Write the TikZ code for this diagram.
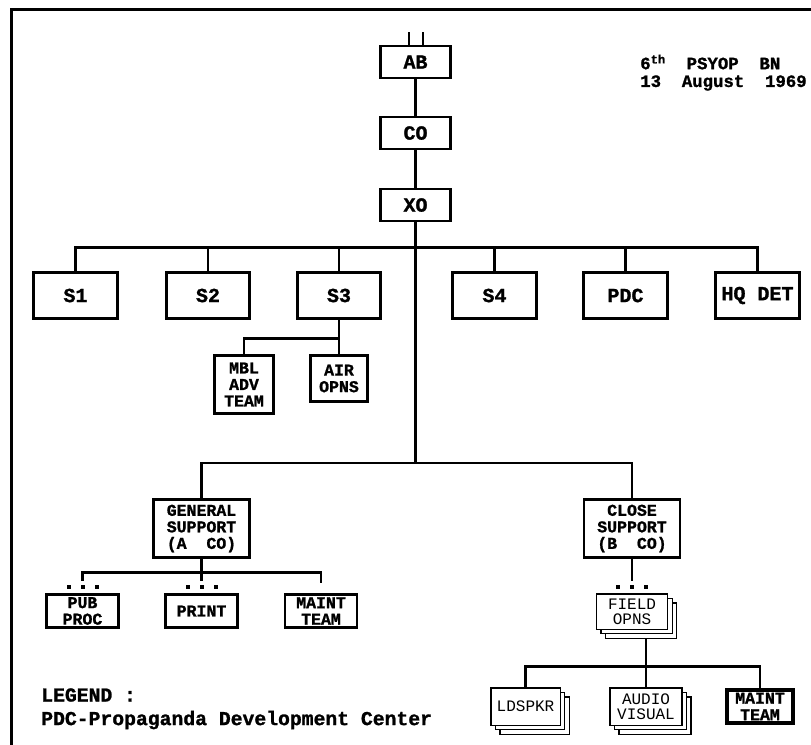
\documentclass[tikz,border=0pt]{standalone}
\usepackage{fontspec}
\setmonofont[BoldFeatures={FakeBold=1.2}]{Liberation Mono}
\usetikzlibrary{calc,shadows}

\begin{document}
\begin{tikzpicture}[x=0.75pt, y=-0.75pt,
  every node/.style = {inner sep=0pt, align=center},
  hqbox/.style = {draw, line width=2.2pt, minimum width=52.5pt, minimum height=24pt,
    font=\ttfamily\bfseries\fontsize{15}{15}\selectfont},
  staffbox/.style = {hqbox, minimum width=62.5pt, minimum height=35pt},
  unitbox/.style = {draw, line width=2.2pt,
    font=\ttfamily\bfseries\fontsize{12.4}{12.4}\selectfont},
  pagebox/.style = {draw, fill=white, line width=1pt,
    double copy shadow={shadow xshift=3.4pt, shadow yshift=-3.4pt},
    font=\ttfamily\fontsize{12}{11}\selectfont},
  textline/.style = {anchor=west, font=\ttfamily\bfseries\fontsize{13}{13}\selectfont},
  legendtext/.style = {anchor=west, font=\ttfamily\bfseries\fontsize{14.8}{14.8}\selectfont},
  conn/.style = {line width=2.2pt}
]
  \useasboundingbox (0,0) rectangle (811,744);
  \draw[line width=2.25pt] (812,9) -- (11,9) -- (11,745);

  % command
  \node[hqbox] (ab) at (415.5,62) {AB};
  \node[hqbox] (co) at (415.5,133) {CO};
  \node[hqbox] (xo) at (415.5,205) {XO};

  % staff
  \node[staffbox] (s1) at (75.5,295.5) {S1};
  \node[staffbox] (s2) at (208,295.5) {S2};
  \node[staffbox] (s3) at (339,295.5) {S3};
  \node[staffbox] (s4) at (494.5,295.5) {S4};
  \node[staffbox] (pdc) at (625.5,295.5) {PDC};
  \node[staffbox] (hqdet) at (757.5,295.5) {HQ DET};

  \node[unitbox, minimum width=44.5pt, minimum height=44pt] (mbl) at (244,384.5) {MBL\\ADV\\TEAM};
  \node[unitbox, minimum width=43pt, minimum height=35pt] (air) at (339,378.5) {AIR\\OPNS};

  % companies
  \node[unitbox, minimum width=72pt, minimum height=44pt] (gs) at (201.5,528.5) {GENERAL\\SUPPORT\\(A\ \ CO)};
  \node[unitbox, minimum width=72pt, minimum height=44pt] (cs) at (632,528.5) {CLOSE\\SUPPORT\\(B\ \ CO)};

  \node[unitbox, minimum width=54pt, minimum height=25pt] (pub) at (82.5,611) {PUB\\PROC};
  \node[unitbox, minimum width=54pt, minimum height=25pt] (print) at (201.5,611) {PRINT};
  \node[unitbox, minimum width=54pt, minimum height=25pt] (maint) at (321,611) {MAINT\\TEAM};

  \node[pagebox, minimum width=53.5pt, minimum height=26.5pt] (field) at (632,611.5) {FIELD\\OPNS};
  \node[pagebox, minimum width=52pt, minimum height=28pt] (ldspkr) at (525.5,706.5) {LDSPKR};
  \node[pagebox, minimum width=54pt, minimum height=28pt] (audio) at (646,706.5) {AUDIO\\VISUAL};
  \node[unitbox, line width=3pt, minimum width=49.5pt, minimum height=25pt] (maintb) at (760,706.5) {MAINT\\TEAM};

  % title and legend
  \node[textline] (unit) at (640,62) {6\textsuperscript{th}\ \ PSYOP\ \ BN};
  \node[textline] (date) at (640,83) {13\ \ August\ \ 1969};
  \node[legendtext] (legend) at (41,695) {LEGEND :};
  \node[legendtext] (pdcnote) at (41,720) {PDC-Propaganda Development Center};

  % lines
  \draw[conn] ($(ab.north)+(-6.5,0)$) -- ++(0,-13);
  \draw[conn] ($(ab.north)+(7.5,0)$) -- ++(0,-13);
  \draw[conn] (ab) -- (co);
  \draw[conn] (co) -- (xo);
  \coordinate (split) at (415.5,463);
  \draw[conn] (xo) -- (split);
  \draw[conn] (s1.north) -- ++(0,-23.5) -| (hqdet.north);
  \foreach \n in {s2,s3,s4,pdc}
    \draw[conn] (\n.north) -- ++(0,-23.5);
  \draw[conn] (s3) -- (air);
  \draw[conn] ($(s3.south)+(0,18)$) -| (mbl.north);
  \draw[conn] (gs.north) |- (split) -| (cs.north);
  \draw[conn] (gs.south) -- ++(0,13) coordinate (gsbus);
  \draw[conn] ($(pub.north)+(0,-12)$) |- (gsbus) -| ($(maint.north)+(0,-10)$);
  \draw[conn] (gsbus) -- ($(print.north)+(0,-12)$);
  \draw[conn] (cs) -- ($(field.north)+(0,-12)$);
  \coordinate (fieldfoot) at ($(field.south)+(0,9)$);
  \draw[conn] (fieldfoot -| audio.north) -- (audio.north);
  \draw[conn] (ldspkr.north) -- ++(0,-21) -| (maintb.north);

  % marks above boxes
  \foreach \n in {pub,print,field}
    \foreach \dx in {-14,0,14}
      \fill ($(\n.north)+(\dx-2,-8)$) rectangle ++(4,4);
\end{tikzpicture}
\end{document}
